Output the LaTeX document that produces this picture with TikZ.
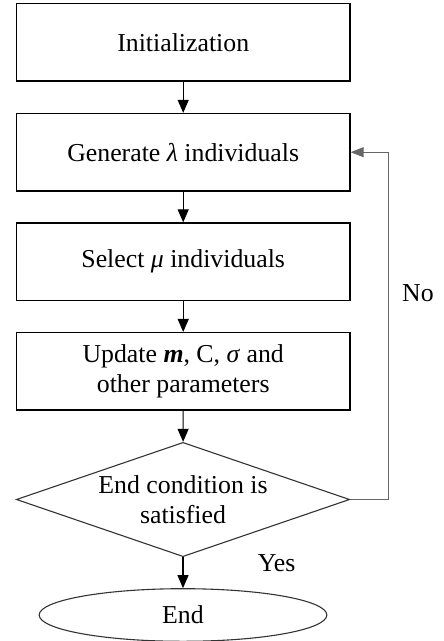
\documentclass[tikz,border=0pt]{standalone}
\usepackage{fontspec}
\setmainfont{Liberation Serif}
\usetikzlibrary{shapes.geometric,arrows.meta}
\begin{document}
\begin{tikzpicture}[x=1pt,y=-1pt,
  every node/.style={font=\fontsize{25.8}{30}\selectfont},
  procbox/.style={draw,line width=1.2pt,minimum width=333.7pt,minimum height=77.5pt,inner sep=0pt,align=center},
  decbox/.style={draw=black!80,line width=1.1pt,shape=diamond,shape aspect=2.92,minimum width=333.3pt,minimum height=114.3pt,inner sep=0pt,align=center},
  termbox/.style={draw=black!80,line width=1.1pt,shape=ellipse,minimum width=287.7pt,minimum height=52.6pt,inner sep=0pt},
  flow/.style={line width=1.1pt,-{Triangle[length=13pt,width=11pt]}},
  backflow/.style={draw=black!60,line width=1pt,-{Triangle[length=13pt,width=10pt]}},
  lbl/.style={inner sep=0pt}
]
\useasboundingbox (0,0) rectangle (444,641);
\node[procbox] (init) at (183.2,42.3) {Initialization};
\node[procbox] (gen) at (183.2,152.2) {Generate \textit{λ} individuals};
\node[procbox] (sel) at (183.2,261.7) {Select \textit{μ} individuals};
\node[procbox] (upd) at (183.2,371.3) {Update \textbf{\textit{m}}, C, \textit{σ} and\\other parameters};
\node[decbox] (dec) at (183,499.5) {End condition is\\satisfied};
\node[termbox] (fin) at (183,615) {End};
\coordinate (corner) at (388.3,499.5);
\draw[flow] (init) -- (gen);
\draw[flow] (gen) -- (sel);
\draw[flow] (sel) -- (upd);
\draw[flow] (upd) -- (dec);
\draw[flow] (dec) -- (fin);
\draw[backflow] (dec.east) -- (corner) |- (gen.east);
\node[lbl] (no) at (418,293) {No};
\node[lbl] (yes) at (276.7,563) {Yes};
\end{tikzpicture}
\end{document}
